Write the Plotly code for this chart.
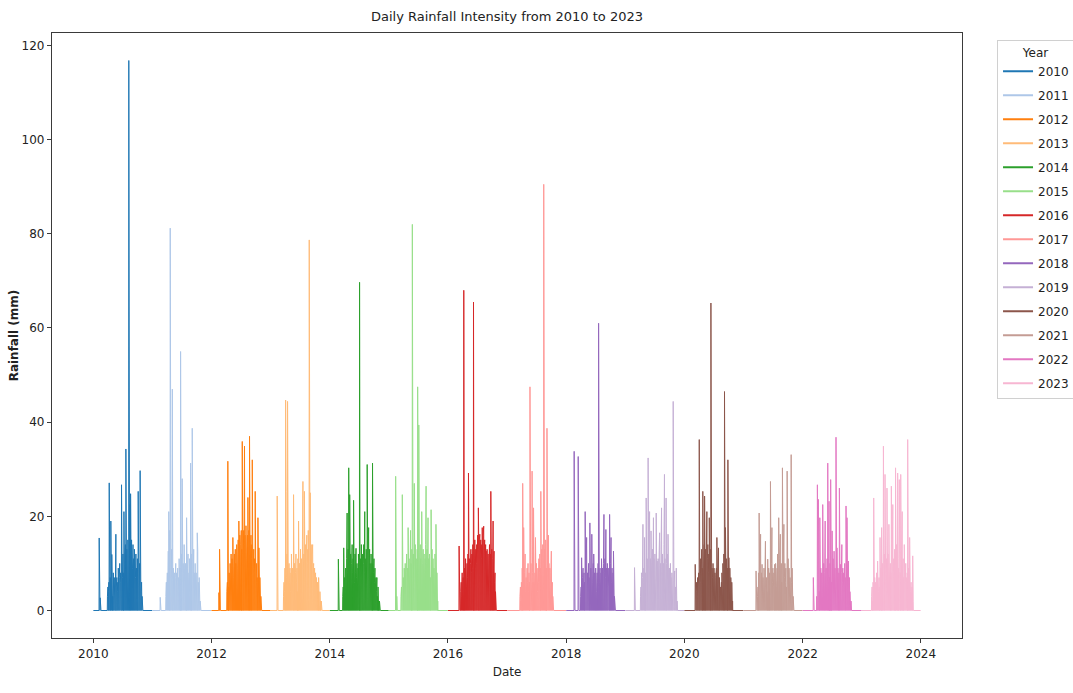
import pandas as pd
import plotly.graph_objects as go

years = list(range(2010, 2024))
colors = ["#1f77b4", "#aec7e8", "#ff7f0e", "#ffbb78", "#2ca02c", "#98df8a", "#d62728",
          "#ff9896", "#9467bd", "#c5b0d5", "#8c564b", "#c49c94", "#e377c2", "#f7b6d2"]

# (day of year, rainfall mm) for rainy days; all other days are 0
rain_2010 = [(37,15.4),(43,2.7),(88,3),(91,5),(94,4),(97,6),(99,27.1),(102,5),(105,7),(109,19),(112,4),(115,11.9),
             (118,6),(121,3),(124,8),(127,5),(130,7),(133,4),(137,9),(140,16.2),(143,5),(146,7),(149,4),(152,6),
             (155,9),(158,5),(161,7),(164,10),(167,6),(170,8),(175,26.7),(178,9),(181,7),(184,12),(187,8),(190,21),
             (193,10),(196,12),(199,14),(202,34.3),(205,11),(208,13),(211,9),(214,15),(217,12),(220,116.8),(223,14),
             (226,11),(228,22.5),(231,24.8),(234,10),(237,15),(240,12),(243,9),(246,14),(249,11),(252,8),(255,13),
             (258,10),(261,7),(264,12),(267,9),(270,6),(273,11),(278,25.3),(281,8),(284,5),(287,10),(290,29.7),
             (293,7),(296,4),(299,6),(302,3),(305,2)]
rain_2011 = [(49,2.8),(84,3),(87,6),(90,4),(93,8),(96,5),(99,12.6),(102,21),(105,9),(108,17),(111,81.2),(114,10),
             (117,7),(120,13),(124,47),(127,6),(130,9),(133,5),(136,8),(139,4),(142,7),(145,10),(148,5),(151,8),
             (154,6),(157,9),(160,4),(163,7),(166,11),(169,6),(172,9),(175,55),(178,8),(181,12),(185,28),(188,7),
             (191,10),(194,6),(197,14),(200,8),(203,5),(206,10),(209,7),(212,19.7),(215,6),(218,9),(221,12),(224,5),
             (227,8),(230,11),(233,7),(237,31.3),(240,9),(243,12),(247,38.7),(250,10),(253,7),(256,13),(259,8),
             (262,6),(265,10),(268,5),(271,8),(274,4),(278,16.5),(281,12.6),(284,6),(287,4),(290,7),(293,3),(296,2)]
rain_2012 = [(47,3.8),(51,13),(96,4),(99,6),(102,31.7),(104,19),(107,5),(110,8),(113,6),(116,10),(119,7),(122,12),
             (125,8),(128,11),(131,9),(133,15.5),(136,10),(139,7),(142,12),(145,9),(148,13),(151,10),(154,8),(157,14),
             (160,11),(163,9),(166,15),(170,19),(173,12),(176,16),(179,10),(182,14),(185,17),(188,13),(191,35.9),
             (194,15),(197,12),(200,17),(202,14),(205,34.9),(208,16),(211,13),(214,18),(217,15),(220,11),(223,16),
             (226,24),(229,13),(232,17),(236,37),(239,14),(242,12),(245,16),(248,11),(250,14),(253,32),(256,12),
             (259,9),(262,13),(265,8),(268,11),(271,25.3),(274,9),(277,6),(280,10),(283,7),(285,5),(288,19.7),(291,8),
             (294,13.3),(297,5),(300,7),(303,4),(306,3),(308,2)]
rain_2013 = [(41,24.3),(80,3),(83,6),(86,4),(89,9),(93,44.7),(96,25.3),(99,7),(102,12),(105,44.4),(108,8),(111,5),
             (114,10),(117,6),(120,9),(123,4),(126,8),(129,12),(132,6),(135,9),(138,5),(142,24.6),(145,7),(148,10),
             (151,5),(154,8),(157,12),(160,6),(163,9),(166,4),(169,11),(173,19),(176,7),(179,10),(182,6),(185,13),
             (188,8),(191,11),(194,7),(197,15),(200,27.4),(203,9),(206,12),(209,25.3),(212,10),(215,14),(218,8),
             (221,12),(224,16),(227,10),(230,13),(233,17),(236,12),(239,78.7),(242,15),(245,25),(248,11),(251,14),
             (254,9),(257,12),(260,14),(263,7),(266,10),(269,6),(272,9),(275,5),(278,8),(281,4),(284,7),(287,3),
             (290,6),(293,4),(297,7),(300,3),(305,4),(310,2),(313,2)]
rain_2014 = [(54,10.9),(58,2.5),(81,3),(84,5),(87,13.3),(90,4),(93,7),(96,5),(99,9),(102,6),(105,11),(108,20.7),
             (111,8),(114,13),(118,30.3),(121,10),(124,24.6),(127,7),(130,12),(133,6),(136,10),(139,14),(142,8),
             (145,11),(148,23.4),(151,9),(154,6),(157,12),(160,8),(163,13.2),(166,7),(169,10),(172,5),(175,9),
             (178,12),(181,7),(185,69.7),(187,43.7),(190,11),(193,8),(196,14),(199,9),(202,12),(205,7),(208,10),
             (211,14),(214,8),(217,21),(220,11),(223,9),(226,13),(229,10),(232,31),(235,21.8),(238,12),(241,17.6),
             (244,9),(247,13),(250,10),(253,8),(256,12),(259,7),(262,10),(265,31.3),(268,19),(271,8),(274,11),
             (277,6),(280,9),(283,5),(286,7),(289,4),(292,7),(295,3),(299,5),(304,2),(308,2)]
rain_2015 = [(43,28.5),(50,3),(76,3),(79,5),(84,24.6),(87,4),(90,7),(93,5),(96,9),(99,6),(102,10),(105,5),(108,8),
             (111,12),(114,6),(117,9),(120,17.6),(123,7),(126,11),(129,5),(132,8),(135,17),(138,10),(141,6),(143,13),
             (146,82),(149,9),(152,12),(155,8),(158,27),(161,10),(164,14),(167,7),(170,11),(173,9),(176,13),
             (179,47.5),(182,10),(186,39.4),(189,12),(192,9),(195,14),(198,11),(201,8),(204,21),(207,12),(210,10),
             (213,13),(216,9),(219,12),(222,8),(225,11),(228,14),(231,26.4),(234,10),(237,13),(240,9),(243,19.7),
             (246,11),(249,8),(252,12),(255,10),(258,7),(262,21.4),(265,10),(268,13),(271,8),(274,11),(277,6),
             (280,9),(283,5),(286,12),(289,7),(292,18.3),(295,5),(298,8),(301,3),(303,2)]
rain_2016 = [(70,13.7),(74,11),(80,4),(83,6),(86,3),(89,8),(92,5),(95,7),(99,68),(101,26.7),(104,9),(107,6),(110,11),
             (113,8),(116,5),(119,10),(122,7),(125,12),(128,29.2),(131,9),(134,11),(137,6),(140,10),(143,13),(146,8),
             (149,12),(152,9),(155,14),(159,65.5),(161,18.3),(164,11),(167,15),(170,9),(173,13),(176,10),(179,14),
             (182,12),(185,16),(189,21.8),(192,13),(195,15),(198,16.2),(201,12),(204,15),(207,11),(210,14),
             (213,17.6),(216,13),(219,16),(222,17.9),(225,12),(228,15),(231,11),(234,14),(237,12.6),(240,10),
             (243,13),(246,9),(249,12),(252,8),(255,11),(258,14),(261,9),(263,12),(266,25.3),(269,10),(272,13),
             (275,8),(278,11),(280,19),(283,9),(286,12.6),(289,6),(292,8),(295,4),(297,3)]
rain_2017 = [(80,3),(83,5),(86,2),(89,6),(92,4),(94,9),(97,27),(100,6),(103,17.6),(106,5),(109,8),(112,12),(115,4),
             (118,7),(121,5),(124,9),(127,6),(130,10),(133,4),(136,8),(139,6),(142,47.5),(145,7),(148,10),(151,5),
             (155,29.6),(158,8),(161,6),(164,21.8),(167,9),(170,5),(173,8),(176,15.5),(179,6),(182,10),(185,7),
             (188,4),(191,9),(194,6),(197,11),(200,8),(203,12),(206,9),(209,25.3),(212,11),(215,13),(218,10),
             (221,14),(224,12),(227,90.5),(230,21.8),(233,13),(236,10),(239,15),(242,11),(244,9),(247,38.7),
             (250,12),(253,8),(256,16),(259,10),(262,7),(265,9),(268,5),(271,8),(274,12.6),(277,4),(280,6),
             (283,3),(286,2)]
rain_2018 = [(50,33.8),(75,32.7),(90,3),(93,5),(96,11.2),(99,4),(102,7),(105,9),(108,5),(111,8),(114,6),(118,21),
             (121,7),(124,9),(127,15.5),(130,5),(133,8),(136,6),(139,10),(142,7),(147,18.6),(150,6),(153,9),(156,5),
             (159,16.2),(162,8),(165,6),(168,10),(171,12),(174,5),(177,8),(180,6),(183,9),(186,7),(189,4),(192,8),
             (195,6),(198,10),(201,61),(204,8),(207,6),(210,9),(213,5),(216,8),(219,11),(222,7),(225,9),(228,6),
             (231,10),(234,20.4),(237,8),(240,11),(243,7),(246,17.2),(249,9),(252,6),(255,10),(258,8),(261,5),
             (264,9),(269,20.4),(272,7),(275,10),(278,15.5),(281,6),(284,9),(287,5),(290,8),(293,12.6),(296,4),
             (299,3),(300,2)]
rain_2019 = [(58,9.1),(95,3),(98,5),(101,8),(104,4),(107,7),(110,18.3),(113,6),(116,9),(120,15.5),(123,5),(126,8),
             (130,23.9),(133,7),(136,11),(139,6),(142,32.4),(145,9),(148,13),(151,21),(154,8),(157,11),(160,16.9),
             (163,7),(166,10),(169,13),(172,8),(175,19.7),(178,11),(181,7),(184,12),(187,9),(192,20.7),(195,8),
             (198,10.5),(201,6),(204,11),(207,8),(210,12),(213,16.5),(216,7),(219,10),(222,13),(225,21.8),(228,9),
             (231,12),(234,7),(237,10),(240,14),(243,28.9),(246,11),(249,8),(253,23.9),(256,10),(259,7),(262,12),
             (265,16.2),(268,8),(271,5),(274,9),(277,6),(280,10),(283,7),(286,4),(289,8),(292,5),(297,44.4),
             (300,4),(303,6),(306,8.4),(309,3),(312,5),(316,9),(319,2),(321,2)]
rain_2020 = [(68,9.8),(71,7.7),(74,4),(77,6),(80,3),(83,7),(86,5),(90,8),(93,36.3),(96,9),(99,6),(102,11),(105,8),
             (108,13),(111,9),(115,25.3),(118,12),(121,8),(124,14),(126,24.3),(129,10),(132,13),(135,9),(137,12),
             (140,21),(143,11),(146,14),(149,8),(152,12),(155,19.7),(158,10),(161,13),(165,65.3),(167,11),(169,57.5),
             (172,9),(175,7),(178,10),(181,6),(184,9),(187,5),(190,8),(193,4),(196,7),(199,9),(202,15.5),(205,6),
             (208,9),(212,13.3),(215,5),(218,7),(221,3),(224,5),(227,4),(230,6),(233,8),(236,5),(239,10),(242,7),
             (245,12),(249,46.5),(252,10),(255,17.6),(258,8),(261,11),(264,7),(267,9),(270,32),(273,8),(276,11.2),
             (279,6),(282,9),(285,5),(288,7),(291,4),(294,6),(297,3),(299,2)]
rain_2021 = [(78,8.4),(87,3),(90,5),(93,8),(97,20.7),(100,6),(103,9),(106,16.2),(109,5),(112,8),(115,9.8),(118,4),
             (121,7),(124,5),(127,9),(130,6),(133,8),(136,14.7),(139,5),(142,7),(145,4),(150,10.9),(153,6),(156,9),
             (159,5),(162,8),(167,27.4),(170,7),(173,10),(176,17.6),(179,6),(182,9),(185,5),(188,8),(193,9.8),
             (196,6),(199,10),(202,7),(205,5),(208,9),(211,12),(214,7),(218,19.7),(221,8),(224,11),(228,16.2),
             (231,7),(234,10),(237,6),(241,30.3),(244,9),(247,12),(250,18.3),(253,7),(256,10),(259,6),(262,9),
             (265,5),(270,29.6),(273,8),(276,11),(279,6),(282,9),(285,5),(288,7),(291,4),(295,33.1),(298,6),
             (301,9),(304,4),(307,3),(311,2)]
rain_2022 = [(67,7),(88,3),(92,26.7),(95,5),(98,23.6),(101,7),(104,4),(107,19.7),(110,6),(113,9),(116,5),(119,8),
             (122,6),(125,22.5),(128,7),(131,10),(134,5),(137,8),(140,19),(143,6),(146,9),(149,5),(152,11),
             (156,31.3),(159,8),(162,12),(164,23.2),(167,7),(170,10),(174,27.8),(177,9),(180,6),(183,16.9),(186,8),
             (189,11),(192,5),(195,12.6),(198,7),(201,9),(204,5),(207,36.8),(210,8),(213,13.3),(216,6),(219,9),
             (222,5),(225,8),(228,26),(231,7),(234,9.8),(237,5),(240,8),(243,14),(246,6),(249,9),(252,5),(255,8),
             (258,6),(261,10),(264,7),(269,22.2),(272,8),(275,19.7),(278,6),(281,9),(284,10.5),(287,5),(290,7),
             (293,4),(296,3),(300,2)]
rain_2023 = [(62,3),(65,5),(68,2),(71,6),(75,23.9),(78,4),(81,7),(84,3),(87,6),(90,4),(93,8),(96,5),(99,10.5),
             (102,6),(105,4),(108,7),(111,5),(114,15.5),(117,6),(120,9),(124,17.6),(127,7),(130,10),(135,34.9),
             (138,8),(141,12),(145,28.9),(148,9),(151,6),(154,11),(157,26),(160,8),(163,12),(166,7),(169,18.3),
             (172,9),(175,6),(178,10),(181,8),(184,26.4),(187,9),(190,12),(193,22.5),(196,8),(199,11),(202,7),
             (205,13),(207,9),(210,30.3),(213,10),(216,14),(219,8),(223,29.2),(226,11),(229,9),(233,27.8),(236,12),
             (239,8),(242,28.9),(245,10),(248,13),(251,21),(254,8),(257,11),(260,7),(264,14),(267,9),(270,6),
             (273,10),(276,7),(279,5),(282,8),(285,36.3),(288,6),(291,9),(294,5),(297,15.5),(300,7),(303,4),
             (306,6),(309,3),(312,5),(316,11.6),(319,2)]

rain_by_year = [rain_2010, rain_2011, rain_2012, rain_2013, rain_2014, rain_2015, rain_2016,
                rain_2017, rain_2018, rain_2019, rain_2020, rain_2021, rain_2022, rain_2023]

FONT = "DejaVu Sans, sans-serif"

fig = go.Figure()
all_max = 0
for yr, col, pairs in zip(years, colors, rain_by_year):
    dates = pd.date_range(f"{yr}-01-01", f"{yr}-12-31", freq="D")
    s = pd.Series(0.0, index=dates)
    for d, v in pairs:
        s.iloc[d - 1] = v
    all_max = max(all_max, s.max())
    fig.add_trace(go.Scatter(x=s.index, y=s.values, mode="lines", name=str(yr),
                             legendgroup=str(yr), showlegend=False,
                             line=dict(color=col, width=1)))

# legend-only entries (thicker sample lines, no data drawn)
for yr, col in zip(years, colors):
    fig.add_trace(go.Scatter(x=[None], y=[None], mode="lines", name=str(yr),
                             legendgroup=str(yr), showlegend=True,
                             line=dict(color=col, width=2)))

x0 = pd.Timestamp("2010-01-01")
x1 = pd.Timestamp("2023-12-31")
span = x1 - x0
xr = [x0 - span * 0.05, x1 + span * 0.05]
yr_range = [-0.05 * all_max, 1.05 * all_max]

axis_common = dict(showline=True, mirror=True, linecolor="#3a3a3a", linewidth=1.3,
                   ticks="outside", ticklen=4, tickcolor="#3a3a3a", showgrid=False, zeroline=False,
                   tickfont=dict(family=FONT, size=12, color="#222"))

fig.update_layout(
    width=1073, height=693,
    margin=dict(l=52, r=111, t=33, b=55, autoexpand=False),
    paper_bgcolor="white", plot_bgcolor="white",
    font=dict(family=FONT, size=12, color="#222"),
    title=dict(text="Daily Rainfall Intensity from 2010 to 2023", x=0.5, xref="paper",
               y=1 - 16 / 693, yanchor="middle", xanchor="center",
               font=dict(family=FONT, size=13, color="#222")),
    xaxis=dict(range=xr, tickvals=[pd.Timestamp(f"{y}-01-01") for y in range(2010, 2025, 2)],
               ticktext=[str(y) for y in range(2010, 2025, 2)],
               title=dict(text="Date", font=dict(family=FONT, size=12, color="#222"), standoff=8),
               **axis_common),
    yaxis=dict(range=yr_range, tickvals=[0, 20, 40, 60, 80, 100, 120],
               title=dict(text="<b>Rainfall (mm)</b>", font=dict(family=FONT, size=12, color="#222"), standoff=0),
               **axis_common),
    legend=dict(title=dict(text="Year", side="top center", font=dict(family=FONT, size=12)),
                x=1.0385, xanchor="left", y=0.988, yanchor="top",
                bordercolor="#d0d0d0", borderwidth=1, bgcolor="white",
                font=dict(family=FONT, size=12), tracegroupgap=5, itemwidth=30),
    showlegend=True,
)

fig.write_html("out.html", config={"displayModeBar": False},
               post_script="document.body.style.margin='0';")
